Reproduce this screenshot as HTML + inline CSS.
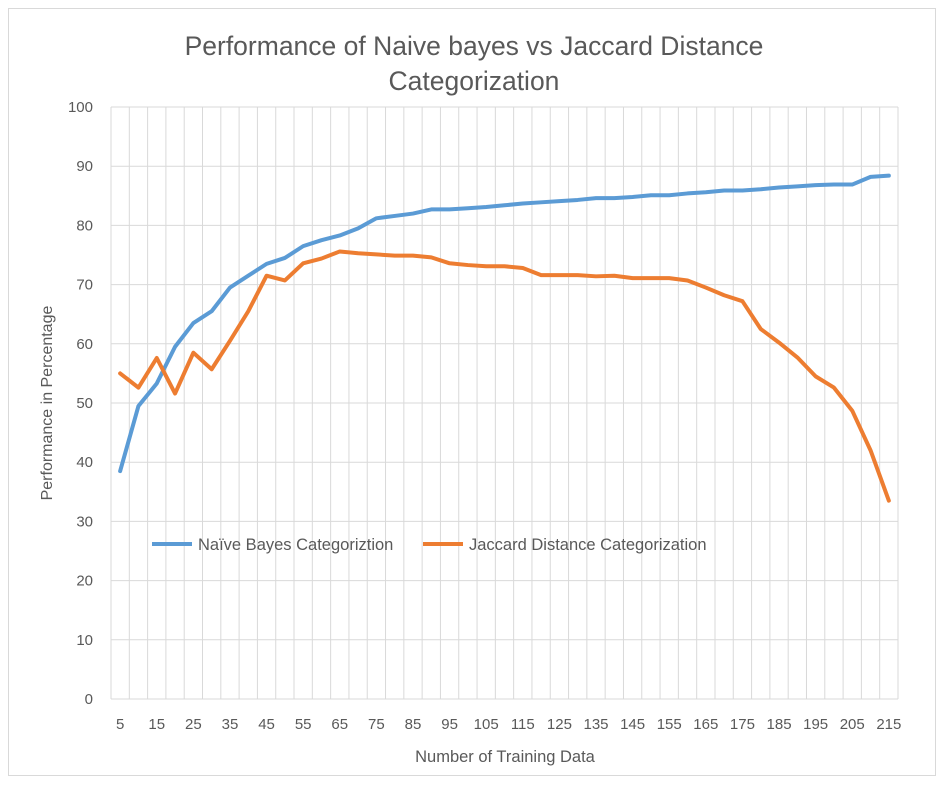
<!DOCTYPE html>
<html><head><meta charset="utf-8"><style>
body{margin:0;background:#fff;font-family:"Liberation Sans",sans-serif}
svg text{font-family:"Liberation Sans",sans-serif;fill:#595959}
</style></head><body>
<svg id="chart" width="944" height="786">
<rect x="8.5" y="8.5" width="927" height="767" fill="#fff" stroke="#d9d9d9"/>
<text x="474" y="55" text-anchor="middle" font-size="26.5">Performance of Naive bayes vs Jaccard Distance</text>
<text x="474" y="90" text-anchor="middle" font-size="26.5">Categorization</text>
<g id="grid"></g>
<g id="yticks"></g>
<g id="xticks"></g>
<g id="series"></g>
<text transform="translate(52,403) rotate(-90)" text-anchor="middle" font-size="16">Performance in Percentage</text>
<text x="505" y="762" text-anchor="middle" font-size="16.5">Number of Training Data</text>
<g>
<line x1="152" y1="544" x2="192" y2="544" stroke="#5b9bd5" stroke-width="4"/>
<text x="198" y="550" font-size="16.5">Naïve Bayes Categoriztion</text>
<line x1="423" y1="544" x2="463" y2="544" stroke="#ed7d31" stroke-width="4"/>
<text x="469" y="550" font-size="16.5">Jaccard Distance Categorization</text>
</g>
</svg>
<script>
const categories=[5,10,15,20,25,30,35,40,45,50,55,60,65,70,75,80,85,90,95,100,105,110,115,120,125,130,135,140,145,150,155,160,165,170,175,180,185,190,195,200,205,210,215];
const naiveBayes=[38.5,49.5,53.3,59.5,63.5,65.5,69.5,71.5,73.5,74.5,76.5,77.5,78.3,79.5,81.2,81.6,82,82.7,82.7,82.9,83.1,83.4,83.7,83.9,84.1,84.3,84.6,84.6,84.8,85.1,85.1,85.4,85.6,85.9,85.9,86.1,86.4,86.6,86.8,86.9,86.9,88.2,88.4];
const jaccard=[55,52.6,57.6,51.6,58.5,55.7,60.5,65.5,71.5,70.7,73.6,74.4,75.6,75.3,75.1,74.9,74.9,74.6,73.6,73.3,73.1,73.1,72.8,71.6,71.6,71.6,71.4,71.5,71.1,71.1,71.1,70.7,69.5,68.2,67.2,62.5,60.2,57.7,54.5,52.6,48.7,42,33.5];
const yTicks=[0,10,20,30,40,50,60,70,80,90,100];
const NS='http://www.w3.org/2000/svg';
const L=111,R=898,T=107,B=699;
const bw=(R-L)/categories.length;
function xPos(i){return L+bw*(i+0.5);}
function yPos(v){return B-(v/100)*(B-T);}
function mk(tag,attrs,parent){const e=document.createElementNS(NS,tag);for(const k in attrs)e.setAttribute(k,attrs[k]);document.getElementById(parent).appendChild(e);return e;}
for(let i=0;i<=categories.length;i++){
  const e=mk('line',{x1:L+bw*i,x2:L+bw*i,y1:T,y2:B,stroke:'#d9d9d9','stroke-width':1},'grid');
  
  
}
yTicks.forEach(v=>{
  const g=mk('line',{x1:L,x2:R,y1:yPos(v),y2:yPos(v),stroke:'#d9d9d9','stroke-width':1},'grid');
  
  
  const t=mk('text',{x:93,y:yPos(v)+5,'text-anchor':'end','font-size':15},'yticks');
  t.textContent=v;
  
  
});
categories.forEach((c,i)=>{
  if(i%2)return;
  const t=mk('text',{x:xPos(i),y:729,'text-anchor':'middle','font-size':15},'xticks');
  t.textContent=c;
  
  
});
function line(data,color,name){
  const p=mk('polyline',{points:data.map((v,i)=>xPos(i)+','+yPos(v)).join(' '),fill:'none',stroke:color,'stroke-width':4,'stroke-linejoin':'round','stroke-linecap':'round'},'series');
  
  
}
line(naiveBayes,'#5b9bd5','naive-bayes-line');
line(jaccard,'#ed7d31','jaccard-line');
</script>
</body></html>
